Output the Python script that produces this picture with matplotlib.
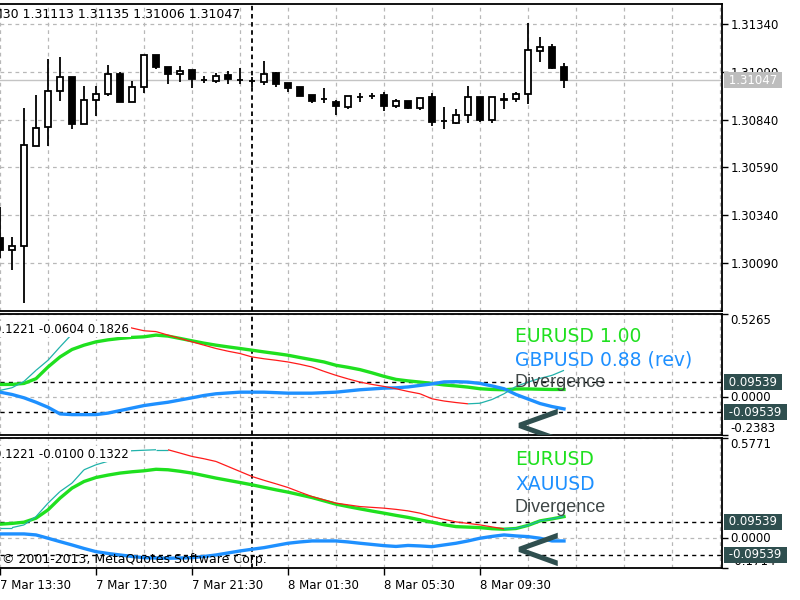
import matplotlib
matplotlib.use("Agg")
import matplotlib.pyplot as plt
import matplotlib.transforms as mtransforms
from matplotlib.collections import LineCollection
import numpy as np

plt.rcParams['font.family'] = ['DejaVu Sans']

# ---------------- data (EURUSD M30, bar 0 = 7 Mar 13:30) ----------------
opens = [1.30221, 1.30158, 1.30181, 1.30704, 1.30800, 1.30990, 1.31061, 1.30815,
         1.30943, 1.30972, 1.31077, 1.30931, 1.31012, 1.31178, 1.31114, 1.31077,
         1.31099, 1.31047, 1.31042, 1.31073, 1.31047, 1.31042, 1.31035, 1.31082,
         1.31033, 1.31013, 1.30971, 1.30948, 1.30931, 1.30908, 1.30960, 1.30963,
         1.30970, 1.30910, 1.30939, 1.30899, 1.30960, 1.30833, 1.30821, 1.30862,
         1.30960, 1.30838, 1.30946, 1.30946, 1.30974, 1.31200, 1.31218, 1.31113]
highs = [1.30383, 1.30228, 1.30901, 1.30969, 1.31157, 1.31166, 1.31061, 1.31016,
         1.31016, 1.31126, 1.31091, 1.31043, 1.31178, 1.31178, 1.31115, 1.31122,
         1.31099, 1.31068, 1.31085, 1.31094, 1.31108, 1.31064, 1.31148, 1.31091,
         1.31033, 1.31013, 1.30971, 1.31004, 1.30943, 1.30966, 1.30978, 1.30981,
         1.30986, 1.30946, 1.30939, 1.30955, 1.30978, 1.30904, 1.30896, 1.31016,
         1.30960, 1.30957, 1.30981, 1.30986, 1.31344, 1.31274, 1.31235, 1.31135]
lows = [1.30116, 1.30053, 1.29881, 1.30704, 1.30704, 1.30939, 1.30789, 1.30815,
        1.30859, 1.30965, 1.30931, 1.30931, 1.30981, 1.31103, 1.31026, 1.31035,
        1.31004, 1.31030, 1.31030, 1.31025, 1.31026, 1.31012, 1.31021, 1.31009,
        1.30986, 1.30963, 1.30925, 1.30929, 1.30864, 1.30894, 1.30934, 1.30946,
        1.30887, 1.30899, 1.30894, 1.30890, 1.30807, 1.30789, 1.30817, 1.30824,
        1.30829, 1.30821, 1.30894, 1.30934, 1.30922, 1.31143, 1.31103, 1.31006]
closes = [1.30158, 1.30181, 1.30707, 1.30795, 1.30991, 1.31061, 1.30815, 1.30943,
          1.30974, 1.31077, 1.30931, 1.31012, 1.31178, 1.31114, 1.31077, 1.31094,
          1.31051, 1.31045, 1.31068, 1.31051, 1.31047, 1.31042, 1.31077, 1.31026,
          1.31008, 1.30963, 1.30940, 1.30948, 1.30911, 1.30966, 1.30960, 1.30963,
          1.30910, 1.30936, 1.30899, 1.30955, 1.30829, 1.30833, 1.30864, 1.30957,
          1.30838, 1.30957, 1.30944, 1.30974, 1.31204, 1.31218, 1.31108, 1.31047]

# sub-window 1: EURUSD vs GBPUSD (rev)
eur_1 = [0.0814, 0.0814, 0.0878, 0.1177, 0.1915, 0.2551, 0.3022, 0.3295, 0.3505, 0.3632,
         0.3721, 0.3785, 0.3823, 0.3931, 0.3868, 0.3721, 0.3569, 0.3422, 0.3295, 0.3187,
         0.3085, 0.2977, 0.2869, 0.2767, 0.2659, 0.2513, 0.2373, 0.2233, 0.2023, 0.1896,
         0.1749, 0.1546, 0.1323, 0.1132, 0.1037, 0.0961, 0.0878, 0.0782, 0.0719, 0.0643,
         0.0541, 0.0496, 0.0477, 0.0528, 0.0528, 0.0509, 0.0496, 0.0496]
gbp_rev = [0.0324, 0.0178, -0.0032, -0.0312, -0.0630, -0.1050, -0.1094, -0.1094, -0.1094, -0.0999,
           -0.0840, -0.0681, -0.0522, -0.0413, -0.0312, -0.0172, -0.0032, 0.0115, 0.0223, 0.0274,
           0.0324, 0.0324, 0.0324, 0.0293, 0.0261, 0.0261, 0.0261, 0.0293, 0.0324, 0.0401,
           0.0477, 0.0528, 0.0579, 0.0598, 0.0655, 0.0751, 0.0846, 0.0973, 0.0986, 0.0961,
           0.0878, 0.0719, 0.0541, 0.0178, -0.0108, -0.0394, -0.0585, -0.0732]
div_1 = [0.0433, 0.0604, 0.1005, 0.1705, 0.2341, 0.3187, 0.3995, 0.4504, 0.4695, 0.4695,
         0.4567, 0.4377, 0.4205, 0.4154, 0.3931, 0.3721, 0.3505, 0.3295, 0.3085, 0.2913,
         0.2767, 0.2551, 0.2436, 0.2341, 0.2233, 0.2087, 0.1915, 0.1641, 0.1387, 0.1164,
         0.0961, 0.0814, 0.0687, 0.0541, 0.0369, 0.0223, -0.0095, -0.0235, -0.0331, -0.0413,
         -0.0375, -0.0140, 0.0223, 0.0687, 0.0961, 0.1196, 0.1387, 0.1705]

# sub-window 2: EURUSD vs XAUUSD
eur_2 = [0.0808, 0.0854, 0.0923, 0.1154, 0.1633, 0.2308, 0.2885, 0.3266, 0.3497, 0.3635,
         0.3751, 0.3826, 0.3883, 0.3970, 0.3941, 0.3855, 0.3751, 0.3606, 0.3462, 0.3335,
         0.3208, 0.3076, 0.2931, 0.2787, 0.2654, 0.2499, 0.2343, 0.2152, 0.1962, 0.1823,
         0.1691, 0.1564, 0.1443, 0.1316, 0.1200, 0.1056, 0.0923, 0.0779, 0.0669, 0.0641,
         0.0612, 0.0548, 0.0519, 0.0560, 0.0739, 0.0998, 0.1114, 0.1246]
xau = [0.0248, 0.0248, 0.0248, 0.0190, 0.0000, -0.0196, -0.0387, -0.0589, -0.0773, -0.0877,
       -0.0964, -0.1050, -0.1119, -0.1137, -0.1154, -0.1137, -0.1119, -0.1050, -0.0964, -0.0848,
       -0.0733, -0.0635, -0.0542, -0.0415, -0.0289, -0.0214, -0.0156, -0.0156, -0.0156, -0.0214,
       -0.0289, -0.0358, -0.0427, -0.0473, -0.0415, -0.0444, -0.0485, -0.0387, -0.0289, -0.0156,
       0.0000, 0.0104, 0.0190, 0.0133, 0.0092, 0.0000, -0.0156, -0.0156]
div_2 = [0.0612, 0.0612, 0.0767, 0.1246, 0.2020, 0.2689, 0.3174, 0.3941, 0.4230, 0.4432,
         0.4980, 0.5037, 0.5066, 0.5095, 0.5095, 0.4905, 0.4709, 0.4576, 0.4420, 0.4132,
         0.3843, 0.3555, 0.3335, 0.3133, 0.2920, 0.2654, 0.2400, 0.2210, 0.2020, 0.1922,
         0.1823, 0.1777, 0.1731, 0.1662, 0.1575, 0.1443, 0.1246, 0.1085, 0.0941, 0.0854,
         0.0767, 0.0652, 0.0537, 0.0565, 0.0739, 0.0998, 0.1114, 0.1258]

level = 0.09539
price_ticks = [1.30090, 1.30340, 1.30590, 1.30840, 1.31090, 1.31340]
sub1_range = (-0.2383, 0.5265)
sub2_range = (-0.1714, 0.5771)
tick_bars = [0, 8, 16, 24, 32, 40]
tick_labels = ["7 Mar 13:30", "7 Mar 17:30", "7 Mar 21:30",
               "8 Mar 01:30", "8 Mar 05:30", "8 Mar 09:30"]
day_sep_bar = 21
sub1_values_text = "0.1221 -0.0604 0.1826"
sub2_values_text = "0.1221 -0.0100 0.1322"
header_text = "M30 1.31113 1.31135 1.31006 1.31047"

# ---------------- style ----------------
GREEN = '#1FE01F'
BLUE = '#1E90FF'
RED = '#FF1A1A'
TEAL = '#20B2AA'
SLATE = '#2F4F4F'
GRID = '#B8B8B8'
FS = 8.5

W, H = 800, 600
fig = plt.figure(figsize=(8, 6), dpi=100)
fig.patch.set_facecolor('white')


def fy(ypix):
    return 1 - ypix / H


RIGHT = 722 / W
ax1 = fig.add_axes([0, fy(311), RIGHT, (311 - 4) / H])
ax2 = fig.add_axes([0, fy(435), RIGHT, (435 - 314) / H])
ax3 = fig.add_axes([0, fy(568), RIGHT, (568 - 438) / H])

n = len(opens)
x = np.arange(n)
XMAX = 722 / 12.0


def style(ax):
    ax.set_xlim(0, XMAX)
    for s in ['top', 'bottom', 'right']:
        ax.spines[s].set_color('black')
        ax.spines[s].set_linewidth(1.3)
    ax.spines['left'].set_visible(False)
    ax.yaxis.tick_right()
    ax.tick_params(axis='y', direction='out', length=4, width=1, color='black',
                   labelsize=FS, pad=2, left=False)
    ax.set_xticks(np.arange(0, XMAX, 4), minor=True)
    ax.set_xticks(tick_bars)
    ax.tick_params(axis='x', which='minor', length=0)
    ax.grid(True, which='both', axis='x', color=GRID, linestyle=(0, (3, 3)), linewidth=0.9)
    ax.grid(True, which='major', axis='y', color=GRID, linestyle=(0, (3, 3)), linewidth=0.9)
    ax.set_axisbelow(True)
    ax.axvline(day_sep_bar, color='black', lw=1.3, ls=(0, (2.5, 2)), zorder=1.5)


for ax in (ax1, ax2, ax3):
    style(ax)
for ax in (ax1, ax2):
    ax.tick_params(axis='x', which='both', length=0, labelbottom=False)

# ---------------- price pane ----------------
o, h, l, c = map(np.asarray, (opens, highs, lows, closes))
ax1.set_ylim(1.29839, 1.31445)
ax1.set_yticks(price_ticks)
ax1.set_yticklabels([f"{p:.5f}" for p in price_ticks])
ax1.axhline(c[-1], color='#C4C4C4', lw=1.0, zorder=1)
ax1.vlines(x, l, h, color='black', lw=1.3, zorder=2)
up = c >= o
ax1.bar(x, np.abs(c - o), bottom=np.minimum(o, c), width=0.55,
        color=np.where(up, 'white', 'black'), edgecolor='black', linewidth=1.3, zorder=3)

blend1 = mtransforms.blended_transform_factory(ax1.transAxes, ax1.transData)
ax1.text(725 / 722, c[-1], f" {c[-1]:.5f} ", transform=blend1, color='white', fontsize=FS,
         va='center', ha='left', zorder=10, clip_on=False,
         bbox=dict(boxstyle='square,pad=0.12', fc='#BDBDBD', ec='none'))

fig.text(-7.5 / W, fy(15), header_text, fontsize=9, va='center', ha='left', color='black')


# ---------------- indicator panes ----------------
def indicator(ax, eur, other, div, yr, labels, values_text):
    ax.set_ylim(*yr)
    ax.set_yticks([yr[0], 0, yr[1]])
    ax.set_yticklabels([])
    ax.axhline(level, color='black', lw=1.0, ls=(0, (3, 3)), zorder=1.6)
    ax.axhline(-level, color='black', lw=1.0, ls=(0, (3, 3)), zorder=1.6)
    ax.plot(x, eur, color=GREEN, lw=2.4, zorder=3)
    ax.plot(x, other, color=BLUE, lw=2.4, zorder=3)
    v = np.asarray(div)
    pts = np.column_stack([x, v])
    segs = np.stack([pts[:-1], pts[1:]], axis=1)
    cols = np.where(np.diff(v) < 0, RED, TEAL)
    ax.add_collection(LineCollection(segs, colors=cols, linewidths=0.9, zorder=4))

    bl = mtransforms.blended_transform_factory(ax.transAxes, ax.transData)
    ax.text(730 / 722, yr[1], f"{yr[1]:.4f}", transform=bl, fontsize=FS, va='top',
            ha='left', clip_on=False, zorder=9)
    ax.text(730 / 722, 0, "0.0000", transform=bl, fontsize=FS, va='center',
            ha='left', clip_on=False, zorder=9)
    ax.text(730 / 722, yr[0], f"{yr[0]:.4f}", transform=bl, fontsize=FS, va='bottom',
            ha='left', clip_on=False, zorder=9)
    for val in (level, -level):
        ax.text(725 / 722, val, f" {val:.5f} ", transform=bl, color='white', fontsize=FS,
                va='center', ha='left', clip_on=False, zorder=10,
                bbox=dict(boxstyle='square,pad=0.12', fc=SLATE, ec='none'))

    ax.text(-6 / 722, 0.876, values_text, transform=ax.transAxes, fontsize=FS,
            va='center', ha='left', clip_on=False, zorder=7,
            bbox=dict(boxstyle='square,pad=0.15', fc='white', ec='none'))
    for (txt, col, yy, fam, fs) in labels:
        ax.text(515 / 722, yy, txt, transform=ax.transAxes, color=col, fontsize=fs,
                family=fam, va='center', ha='left', zorder=8)


indicator(ax2, eur_1, gbp_rev, div_1, sub1_range,
          [("EURUSD 1.00", GREEN, 0.818, 'DejaVu Sans', 13.5),
           ("GBPUSD 0.88 (rev)", BLUE, 0.62, 'DejaVu Sans', 13.5),
           ("Divergence", '#3F4747', 0.43, 'Liberation Sans', 13)],
          sub1_values_text)
indicator(ax3, eur_2, xau, div_2, sub2_range,
          [("EURUSD", GREEN, 0.831, 'DejaVu Sans', 13.5),
           ("XAUUSD", BLUE, 0.646, 'DejaVu Sans', 13.5),
           ("Divergence", '#3F4747', 0.462, 'Liberation Sans', 13)],
          sub2_values_text)

# chevron markers
ax2.text(538 / 722, (435 - 422 - 0.36 * 63) / 121, "<", transform=ax2.transAxes,
         fontsize=45, color=SLATE, ha='center', va='baseline', zorder=9, clip_on=True)
ax3.text(538 / 722, (568 - 546.5 - 0.36 * 63) / 130, "<", transform=ax3.transAxes,
         fontsize=45, color=SLATE, ha='center', va='baseline', zorder=9, clip_on=True)

ax3.text(2 / 722, (568 - 559) / 130, "\u00a9 2001-2013, MetaQuotes Software Corp.",
         transform=ax3.transAxes, fontsize=9, va='center', ha='left', zorder=8)

# x axis labels
ax3.set_xticklabels(tick_labels, ha='left')
ax3.tick_params(axis='x', which='major', direction='out', length=5, width=1,
                color='black', labelsize=FS, pad=3)

fig.savefig("out.png", dpi=100, facecolor='white')
